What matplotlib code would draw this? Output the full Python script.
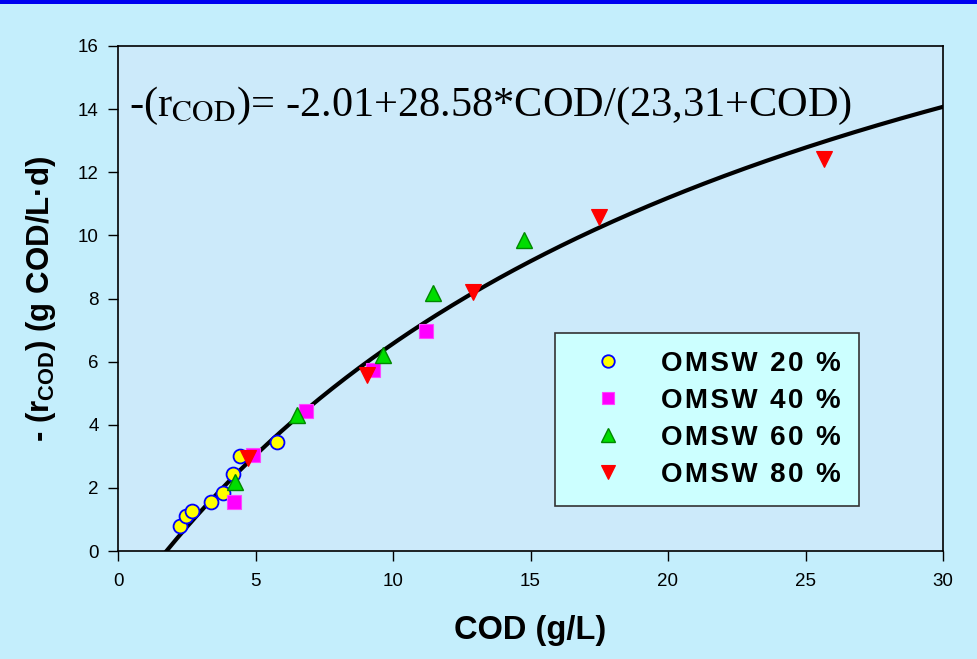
import numpy as np
import matplotlib
matplotlib.use("Agg")
import matplotlib.pyplot as plt
from matplotlib.patches import Rectangle

# ---- data ----
cod_20 = [2.25, 2.47, 2.70, 3.38, 3.83, 4.19, 4.44, 5.79]
rate_20 = [0.80, 1.11, 1.28, 1.56, 1.83, 2.44, 3.01, 3.44]
cod_40 = [4.22, 4.92, 6.82, 9.28, 11.19]
rate_40 = [1.54, 3.04, 4.45, 5.73, 6.97]
cod_60 = [4.25, 6.50, 9.65, 11.47, 14.78]
rate_60 = [2.20, 4.31, 6.21, 8.17, 9.85]
cod_80 = [4.74, 9.04, 12.90, 17.49, 25.68]
rate_80 = [2.94, 5.58, 8.22, 10.59, 12.41]
labels = ["OMSW 20 %", "OMSW 40 %", "OMSW 60 %", "OMSW 80 %"]
# model parameters:  -(r) = a + b*COD/(K+COD)
a_par, b_par, K_par = -2.01, 28.58, 23.31
x_ticks = [0, 5, 10, 15, 20, 25, 30]
y_ticks = [0, 2, 4, 6, 8, 10, 12, 14, 16]

plt.rcParams['font.family'] = ['Liberation Sans', 'DejaVu Sans']
plt.rcParams['mathtext.fontset'] = 'custom'
plt.rcParams['mathtext.rm'] = 'Liberation Sans:bold'
plt.rcParams['mathtext.bf'] = 'Liberation Sans:bold'
plt.rcParams['mathtext.it'] = 'Liberation Sans:bold'


def tracked(s):
    return "\u200a".join(s)


W, H = 977, 659
fig = plt.figure(figsize=(W / 100, H / 100), dpi=100, facecolor='#C4EEFC')
fig.patches.append(Rectangle((0, 1 - 4 / H), 1, 4 / H, transform=fig.transFigure,
                             facecolor='#0000F0', edgecolor='none', zorder=10))

L, R, T, B = 118, 943, 46, 551
ax = fig.add_axes([L / W, 1 - B / H, (R - L) / W, (B - T) / H])
ax.set_facecolor('#CCEAFA')

x0 = -a_par * K_par / (b_par + a_par)
xc = np.linspace(x0, 30, 300)
yc = a_par + b_par * xc / (K_par + xc)
ax.plot(xc, yc, color='black', lw=3.0, zorder=2)

ax.plot(cod_20, rate_20, ls='none', marker='o', ms=10, mfc='#FFFF00', mec='#0000FF',
        mew=1.3, label=tracked(labels[0]), zorder=3)
ax.plot(cod_40, rate_40, ls='none', marker='s', ms=9.5, mfc='#FF00FF', mec='#FF44FF',
        mew=0.8, label=tracked(labels[1]), zorder=3)
ax.plot(cod_60, rate_60, ls='none', marker='^', ms=11, mfc='#00DD00', mec='#008800',
        mew=1.0, label=tracked(labels[2]), zorder=3)
ax.plot(cod_80, rate_80, ls='none', marker='v', ms=11, mfc='#FF0000', mec='#FF0000',
        mew=0.8, label=tracked(labels[3]), zorder=3)

ax.set_xlim(0, 30)
ax.set_ylim(0, 16)
ax.set_xticks(x_ticks)
ax.set_yticks(y_ticks)
ax.tick_params(direction='out', length=7, width=1.0, labelsize=13.5)
ax.tick_params(axis='x', pad=9)
ax.tick_params(axis='y', pad=7)
for s in ax.spines.values():
    s.set_linewidth(1.2)

ax.set_xlabel("COD (g/L)", fontsize=23.5, fontweight='bold', labelpad=18)
ax.set_ylabel(r"- (r$_{\mathrm{COD}}$) (g COD/L·d)", fontsize=22.5, fontweight='bold',
              labelpad=14, math_fontfamily='custom')

ax.text(0.4, 13.78, r"-(r$_{\mathrm{COD}}$)= -2.01+28.58*COD/(23,31+COD)",
        fontsize=30.5, family='Liberation Serif', math_fontfamily='stix',
        va='baseline', ha='left')

leg = ax.legend(loc='upper left', bbox_to_anchor=(555 / W, 1 - 333 / H),
                bbox_transform=fig.transFigure, frameon=True, fancybox=False,
                facecolor='#CCFFFF', edgecolor='#333333', framealpha=1,
                prop={'family': 'Liberation Sans', 'weight': 'bold', 'size': 20},
                borderpad=0.65, labelspacing=0.39, handletextpad=0.7,
                handlelength=2.48, borderaxespad=0, markerscale=0.9)
leg.get_frame().set_linewidth(1.2)

fig.savefig("out.png", dpi=100, facecolor=fig.get_facecolor())
